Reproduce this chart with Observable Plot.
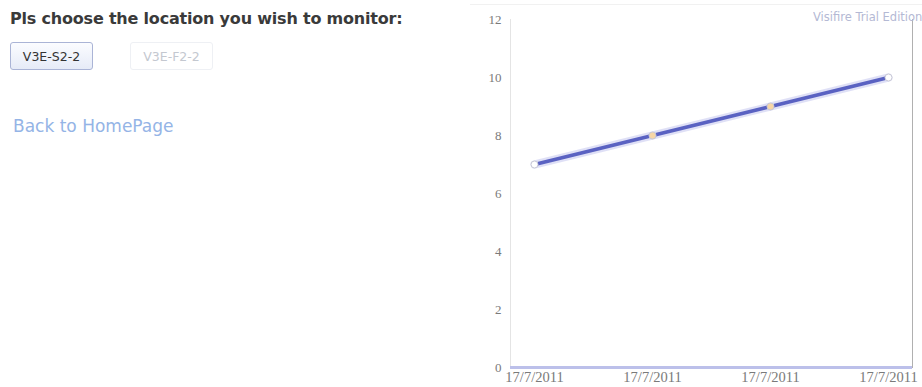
<!DOCTYPE html>
<html>
<head>
<meta charset="utf-8">
<script src="https://cdn.jsdelivr.net/npm/d3@7"></script>
<script src="https://cdn.jsdelivr.net/npm/@observablehq/plot@0.6"></script>
<style>
  html, body { margin: 0; padding: 0; background: #fff; width: 922px; height: 387px; overflow: hidden; }
  #page { position: relative; width: 922px; height: 387px; }
  #title { position: absolute; left: 10px; top: 9px; font: bold 16px "DejaVu Sans", Verdana, sans-serif; color: #3a3a3a; letter-spacing: -0.2px; white-space: nowrap; }
  .btn { position: absolute; top: 42px; height: 28px; width: 83px; box-sizing: border-box; border-radius: 3px; font: 12.5px "DejaVu Sans", sans-serif; display: flex; align-items: center; justify-content: center; }
  #b1 { left: 10px; border: 1px solid #aab4d6; background: linear-gradient(#fbfcff, #e6ebf7); color: #333; }
  #b2 { left: 130px; border: 1px solid #eef0f4; background: #fff; color: #c4c8d0; }
  #back { position: absolute; left: 13px; top: 116px; font: 17px "DejaVu Sans", sans-serif; color: #94b4e6; white-space: nowrap; }
  #chart { position: absolute; left: 470px; top: 0; width: 452px; height: 387px; }
  #topline { position: absolute; left: 470px; top: 4px; width: 452px; height: 1px; background: #f1f1f1; }
  #wm { position: absolute; left: 813px; top: 10px; width: 109px; overflow: hidden; white-space: nowrap; font: 11.5px "DejaVu Sans", sans-serif; color: #b4b9d4; }
</style>
</head>
<body>
<div id="page">
  <div id="title">Pls choose the location you wish to monitor:</div>
  <div class="btn" id="b1">V3E-S2-2</div>
  <div class="btn" id="b2">V3E-F2-2</div>
  <div id="back">Back to HomePage</div>
  <div id="topline"></div>
  <div id="chart"></div>
  <div id="wm">Visifire Trial Edition</div>
</div>
<script>
const dates = ["17/7/2011", "17/7/2011", "17/7/2011", "17/7/2011"];
const values = [7, 8, 9, 10];
const yTicks = [0, 2, 4, 6, 8, 10, 12];

const data = values.map((v, i) => ({i, v, label: dates[i]}));

const chart = Plot.plot({
  width: 452,
  height: 387,
  marginLeft: 40,
  marginRight: 10,
  marginTop: 19,
  marginBottom: 20,
  style: {fontFamily: "'Liberation Serif', 'DejaVu Serif', serif", fontSize: "13px", color: "#7a7a7a", background: "transparent"},
  x: {type: "point", domain: data.map(d => d.i), padding: 0.2, label: null},
  y: {domain: [0, 12], label: null},
  marks: [
    Plot.frame({anchor: "left", stroke: "#e4e4e4"}),
    Plot.frame({anchor: "right", stroke: "#b0b0b0"}),
    Plot.axisY({ticks: yTicks, tickSize: 0, tickPadding: 9, label: null, fill: "#7a7a7a", fontSize: 13}),
    Plot.axisX({tickSize: 0, tickPadding: 4, label: null, tickFormat: i => dates[i], fill: "#7a7a7a", fontSize: 14.5}),
    Plot.ruleY([0], {stroke: "#bcc0ea", strokeWidth: 3}),
    Plot.line(data, {x: "i", y: "v", stroke: "#c9cbf0", strokeWidth: 8, strokeOpacity: 0.6}),
    Plot.line(data, {x: "i", y: "v", stroke: "#5a62c2", strokeWidth: 3.8}),
    Plot.dot(data, {x: "i", y: "v", r: 3.5, fill: (d, k) => (k === 0 || k === data.length - 1) ? "#ffffff" : "#f7d6a6", stroke: "#c8c8d6", strokeWidth: 1})
  ]
});
document.getElementById("chart").appendChild(chart);
</script>
</body>
</html>
